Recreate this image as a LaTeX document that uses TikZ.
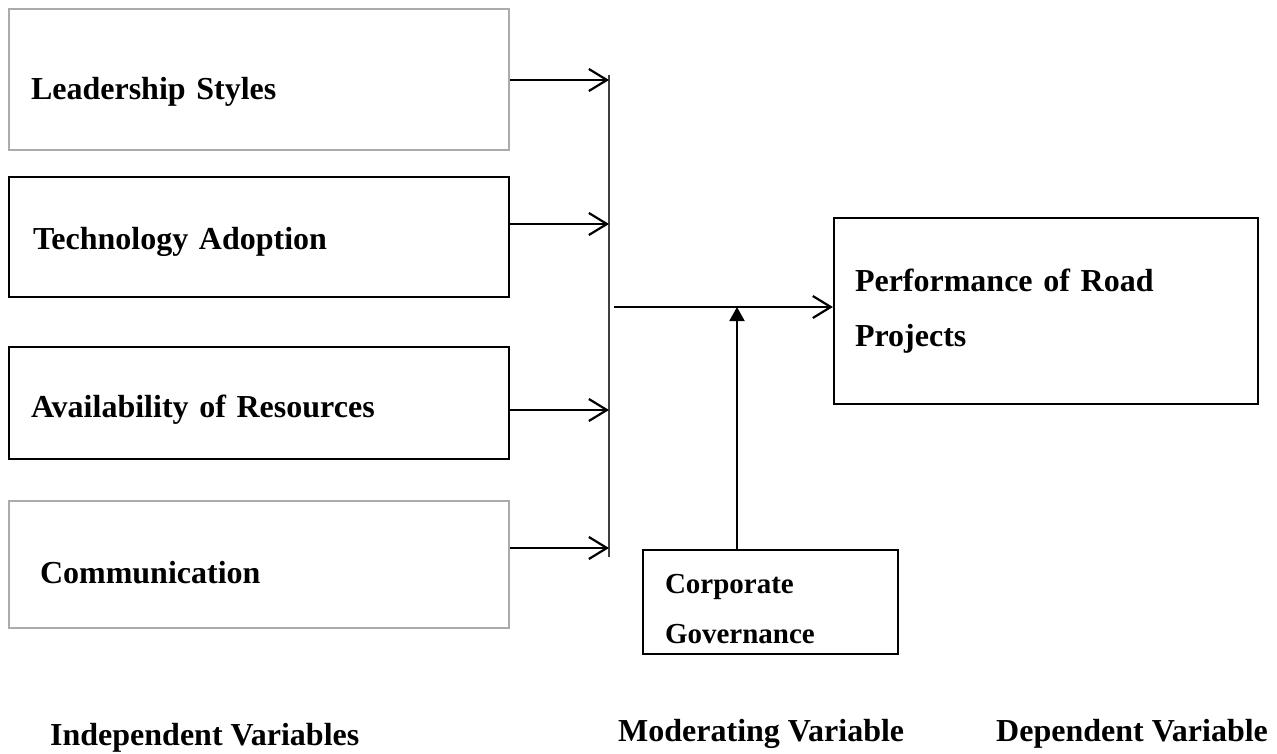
\documentclass[tikz,border=0pt]{standalone}
\usepackage{fontspec}
\setmainfont{Liberation Serif}
\usetikzlibrary{arrows.meta, calc}

\tikzset{
  varbox/.style={draw, rectangle, line width=2.2pt, align=left, inner xsep=22pt,
    inner ysep=0pt, font=\fontsize{32}{55}\selectfont\bfseries},
  greybox/.style={varbox, draw=black!33, line width=2.6pt},
  oneline/.style={text height=#1, text depth=8pt},
  open/.style={-{Straight Barb[length=18pt,width=22pt]}, line width=2.2pt},
  caption/.style={anchor=base west, inner sep=0pt, font=\fontsize{32}{38}\selectfont\bfseries}
}

\begin{document}
\begin{tikzpicture}[x=1pt, y=-1pt]
  \fill[white] (0,0) rectangle (1277,754);
  \useasboundingbox (0,0) rectangle (1277,754);
  % --- independent variables ---
  \node[greybox, oneline=49pt, text width=456pt, minimum height=141pt] (lead) at (259,79.5) {Leadership Styles};
  \node[varbox, oneline=34pt, text width=452pt, inner xsep=24pt, minimum height=120pt] (tech) at (259,237) {Technology Adoption};
  \node[varbox, oneline=36pt, text width=456pt, minimum height=112pt] (avail) at (259,403) {Availability of Resources};
  \node[greybox, oneline=45pt, text width=438pt, inner xsep=31pt, minimum height=127pt] (comm) at (259,564.5) {Communication};
  % --- collecting bar ---
  \coordinate (bartop) at (609,75);
  \coordinate (barbot) at (609,557);
  \draw[line width=1.6pt, black!75] (bartop) -- (barbot);
  \draw[open] ([yshift=-0.5pt]lead.east) -- ([yshift=-0.5pt]lead.east -| bartop);
  \draw[open] ([yshift=13pt]tech.east) -- ([yshift=13pt]tech.east -| bartop);
  \draw[open] ([yshift=-7pt]avail.east) -- ([yshift=-7pt]avail.east -| bartop);
  \draw[open] ([yshift=16.5pt]comm.east) -- ([yshift=16.5pt]comm.east -| bartop);
  % --- dependent variable ---
  \node[varbox, text width=382pt, inner xsep=21pt, minimum height=186pt] (perf) at (1046,311) {Performance of Road\\Projects};
  \coordinate (join) at (614,307);
  \draw[open] (join) -- (join -| perf.west);
  % --- moderating variable ---
  \node[varbox, text width=211pt, minimum height=104pt, text depth=36pt,
        font=\fontsize{29}{50}\selectfont\bfseries] (corp) at (770.5,602) {Corporate\\Governance};
  \coordinate (mod) at (737,307);
  \draw[line width=2pt, -{Triangle[length=14pt,width=15pt]}] (corp.north -| mod) -- (mod);
  % --- captions ---
  \node[caption] (indep) at (50,745) {Independent Variables};
  \node[caption] (moder) at (618,741) {Moderating Variable};
  \node[caption] (depen) at (996,741) {Dependent Variable};
\end{tikzpicture}
\end{document}
